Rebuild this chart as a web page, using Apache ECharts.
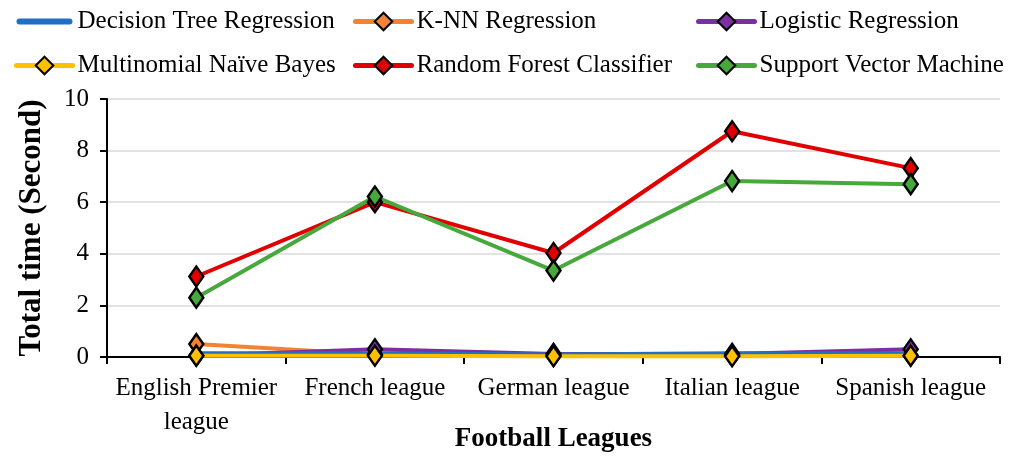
<!DOCTYPE html>
<html>
<head>
<meta charset="utf-8">
<script src="https://cdn.jsdelivr.net/npm/echarts@6/dist/echarts.min.js"></script>
<style>
  html, body { margin: 0; padding: 0; background: #fff; }
  #main { width: 1024px; height: 456px; }
</style>
</head>
<body>
<div id="main"></div>
<script>
  var leagues = ['English Premier\nleague', 'French league', 'German league', 'Italian league', 'Spanish league']
  var decisionTree = [0.15, 0.15, 0.1, 0.15, 0.15]
  var knn = [0.5, 0.1, 0.05, 0.05, 0.05]
  var logistic = [0.05, 0.3, 0.12, 0.12, 0.3]
  var naiveBayes = [0.05, 0.05, 0.03, 0.03, 0.05]
  var randomForest = [3.12, 6.0, 4.03, 8.75, 7.32]
  var svm = [2.3, 6.22, 3.35, 6.82, 6.7]
  var yTicks = [0, 2, 4, 6, 8, 10]

  var font = 'Liberation Serif'

  function lineSeries (name, data, color, marker) {
    var s = {
      name: name,
      type: 'line',
      data: data,
      color: color,
      lineStyle: { width: 4, color: color },
      animation: false
    }
    if (marker) {
      s.symbol = 'diamond'
      s.symbolSize = [14, 20]
      s.itemStyle = { color: color, borderColor: '#000', borderWidth: 2.5 }
    } else {
      s.symbol = 'none'
    }
    return s
  }

  var legendText = { fontFamily: font, fontSize: 25, color: '#000' }
  function legendCol (left, items) {
    return {
      orient: 'vertical',
      left: left,
      top: 4,
      itemWidth: 56,
      itemHeight: 22,
      itemGap: 19,
      textStyle: legendText,
      lineStyle: { width: 5, cap: 'round' },
      data: items
    }
  }

  // plain line icon for the series without markers
  var dtIcon = { name: 'Decision Tree Regression', icon: 'path://M3,0 L53,0 A3,3 0 0 1 53,6 L3,6 A3,3 0 0 1 3,0 Z', itemStyle: { color: '#1f6fc4' } }

  var chart = echarts.init(document.getElementById('main'))
  chart.setOption({
    backgroundColor: '#fff',
    animation: false,
    legend: [
      legendCol(9, [dtIcon, 'Multinomial Naïve Bayes']),
      legendCol(348, ['K-NN Regression', 'Random Forest Classifier']),
      legendCol(691, ['Logistic Regression', 'Support Vector Machine'])
    ],
    grid: { left: 107, right: 24, top: 99, bottom: 99, outerBoundsMode: 'none', containLabel: false },
    xAxis: {
      type: 'category',
      data: leagues,
      boundaryGap: true,
      name: 'Football Leagues',
      nameLocation: 'middle',
      nameGap: 69,
      nameMoveOverlap: false,
      nameTextStyle: { fontFamily: font, fontSize: 27, fontWeight: 'bold', color: '#000' },
      axisLine: { lineStyle: { color: '#000', width: 2 } },
      axisTick: { show: true, alignWithLabel: false, length: 7, lineStyle: { color: '#000', width: 2 } },
      axisLabel: { fontFamily: font, fontSize: 25, color: '#000', margin: 14, lineHeight: 34, interval: 0 }
    },
    yAxis: {
      type: 'value',
      min: 0,
      max: 10,
      interval: 2,
      name: 'Total time (Second)',
      nameLocation: 'middle',
      nameGap: 60,
      nameMoveOverlap: false,
      nameTextStyle: { fontFamily: font, fontSize: 31, fontWeight: 'bold', color: '#000' },
      axisLine: { show: true, lineStyle: { color: '#000', width: 2 } },
      axisTick: { show: true, length: 7, lineStyle: { color: '#000', width: 2 } },
      axisLabel: {
        fontFamily: font, fontSize: 25, color: '#000', margin: 18,
        formatter: function (v) { return yTicks.indexOf(v) >= 0 ? String(v) : '' }
      },
      splitLine: { show: true, lineStyle: { color: '#d9d9d9', width: 1.5 } }
    },
    series: [
      lineSeries('Random Forest Classifier', randomForest, '#e00000', true),
      lineSeries('Support Vector Machine', svm, '#47a83c', true),
      lineSeries('K-NN Regression', knn, '#f58231', true),
      lineSeries('Logistic Regression', logistic, '#7b2fa0', true),
      lineSeries('Decision Tree Regression', decisionTree, '#1f6fc4', false),
      lineSeries('Multinomial Naïve Bayes', naiveBayes, '#ffc000', true)
    ]
  })
</script>
</body>
</html>
